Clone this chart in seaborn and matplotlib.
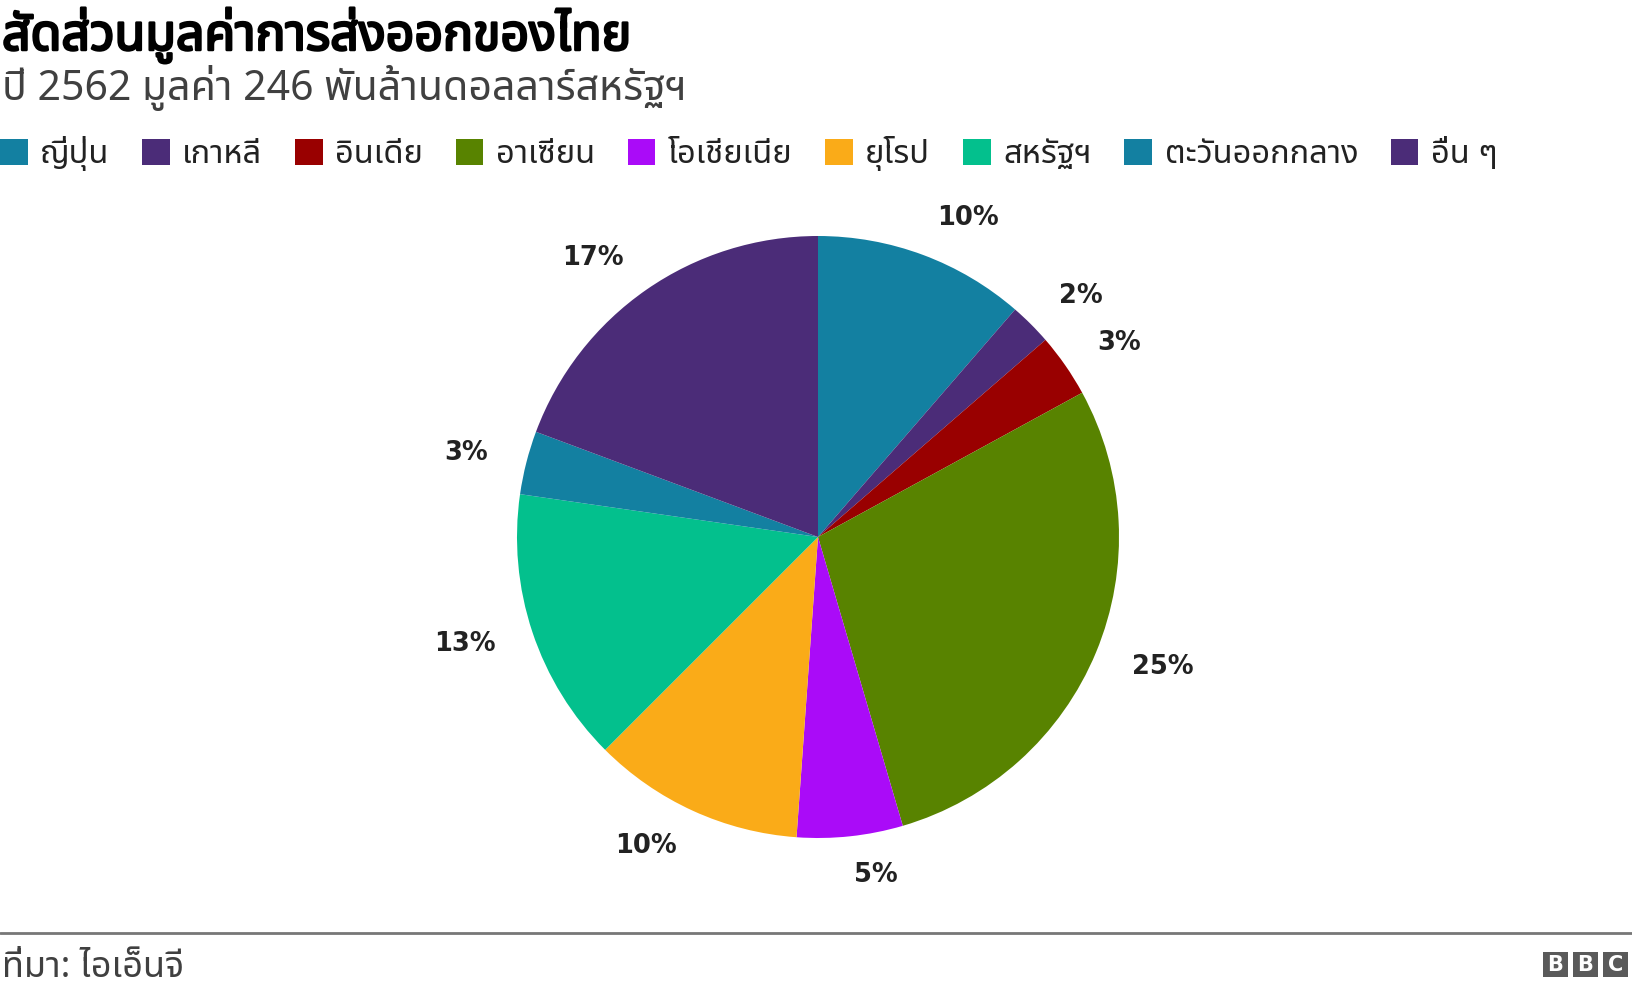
import matplotlib
matplotlib.use("Agg")
import matplotlib.pyplot as plt
import matplotlib.patheffects as pe
import seaborn as sns
from matplotlib import font_manager as fm
from matplotlib.ft2font import FT2Font
from matplotlib.patches import Rectangle
from matplotlib.lines import Line2D

# ---------------- data ----------------
categories = ["ญี่ปุ่น", "เกาหลี", "อินเดีย", "อาเซียน", "โอเชียเนีย",
              "ยุโรป", "สหรัฐฯ", "ตะวันออกกลาง", "อื่น ๆ"]
shares = [10, 2, 3, 25, 5, 10, 13, 3, 17]
colors = ["#1380A1", "#4B2C78", "#990000", "#588300", "#AA0BF8",
          "#FAAB18", "#03C08D", "#1380A1", "#4B2C78"]
title = "สัดส่วนมูลค่าการส่งออกของไทย"
subtitle = "ปี 2562 มูลค่า 246 พันล้านดอลลาร์สหรัฐฯ"
source = "ที่มา: ไอเอ็นจี"

# ---------------- fonts ----------------
sns.set_theme(style="white")
preferred = ["Tahoma", "Noto Sans Thai", "Noto Sans Thai UI", "Loma", "Garuda",
             "Sarabun", "Waree", "Umpush", "Kinnari", "Norasi", "Sawasdee",
             "Laksaman", "Purisa", "TlwgTypo"]
thai = {}
for f in fm.fontManager.ttflist:
    try:
        ft = FT2Font(f.fname)
        if ft.get_char_index(ord("ก")):
            w = f.weight if isinstance(f.weight, int) else (700 if "bold" in str(f.weight) else 400)
            thai.setdefault(f.name, set()).add(w)
    except Exception:
        pass
order = [p for p in preferred if p in thai] + sorted(n for n in thai if n not in preferred)
fam = order[0] if order else None
has_bold = bool(fam) and max(thai[fam]) >= 600
families = ([fam] if fam else []) + ["DejaVu Sans"]
plt.rcParams["font.family"] = families


def boldfx(color, lw):
    if has_bold:
        return []
    return [pe.withStroke(linewidth=lw, foreground=color)]


W, H = 1632, 988
fig = plt.figure(figsize=(W / 100, H / 100), dpi=100)
fig.patch.set_facecolor("white")

# pie axes: centre (818, 537) px, radius 301 px
R = 301
cx, cy = 818, 537
lim = 1.25
side = 2 * lim * R
ax = fig.add_axes([(cx - side / 2) / W, (H - cy - side / 2) / H, side / W, side / H])
wedges, texts = ax.pie(
    shares,
    colors=colors,
    labels=[f"{v}%" for v in shares],
    startangle=90,
    counterclock=False,
    labeldistance=1.13,
    wedgeprops=dict(linewidth=0),
    textprops=dict(fontsize=18.5, fontweight="bold", color="#222222",
                   family="DejaVu Sans"),
)
ax.set_xlim(-lim, lim)
ax.set_ylim(-lim, lim)
ax.set_aspect("equal")
ax.axis("off")

# titles
fig.text(2 / W, 1 - 50 / H, title, fontsize=36, fontweight="bold",
         color="#000000", va="baseline", ha="left",
         path_effects=boldfx("#000000", 1.8))
fig.text(2 / W, 1 - 100 / H, subtitle, fontsize=29.5, color="#404040",
         va="baseline", ha="left")

# legend
leg = fig.legend(wedges, categories, ncol=9, loc="upper left",
                 bbox_to_anchor=(0.0, 1 - 136 / H), frameon=False,
                 fontsize=23.5, handlelength=0.85, handleheight=0.85,
                 handletextpad=0.38, columnspacing=1.0, borderpad=0,
                 borderaxespad=0)
for t in leg.get_texts():
    t.set_color("#222222")

# footer
fig.add_artist(Line2D([0, 1], [1 - 933 / H, 1 - 933 / H], transform=fig.transFigure,
                      color="#777777", linewidth=2))
fig.text(2 / W, 1 - 977 / H, source, fontsize=26, color="#404040",
         va="baseline", ha="left")

# BBC blocks
bx0, by0, bs, gap = 1543, 952, 25, 5
for i, ch in enumerate("BBC"):
    x = bx0 + i * (bs + gap)
    fig.add_artist(Rectangle((x / W, 1 - (by0 + bs) / H), bs / W, bs / H,
                             transform=fig.transFigure, facecolor="#5a5a5a",
                             edgecolor="none"))
    fig.text((x + bs / 2) / W, 1 - (by0 + bs / 2) / H, ch, fontsize=15,
             fontweight="bold", color="white", ha="center", va="center",
             family="DejaVu Sans")

fig.savefig("out.png", dpi=100, facecolor="white")
